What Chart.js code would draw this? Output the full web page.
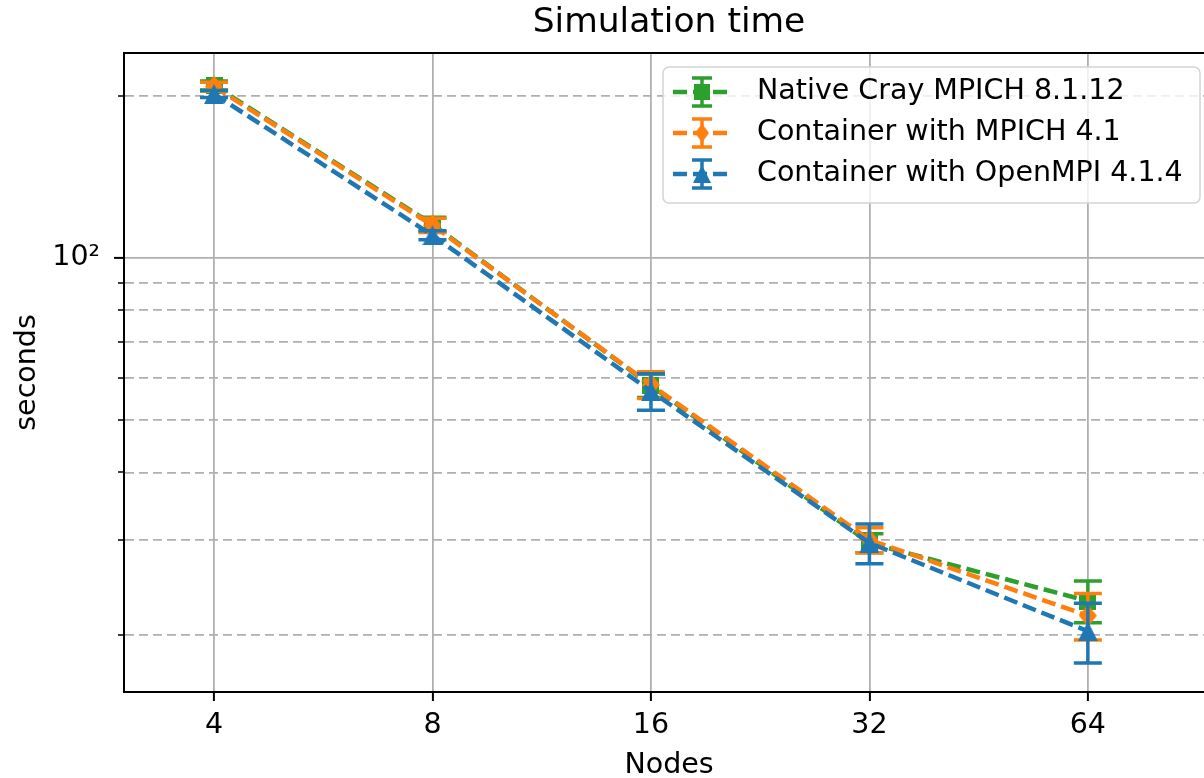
<!DOCTYPE html>
<html lang="en">
<head>
    <meta charset="UTF-8" />
    <title>Simulation time</title>
    <!-- Chart.js (CDN) -->
    <script src="https://cdn.jsdelivr.net/npm/chart.js"></script>
    <style>
        html, body { margin: 0; padding: 0; background: #fff; overflow: hidden; }
        /* the axes run a little past the right edge of the window, as in the original */
        #wrap { width: 1230px; height: 778px; }
    </style>
</head>
<body>
<div id="wrap">
    <canvas id="chartSimulation" width="1230" height="778"></canvas>
</div>

<script>
    // x axis: number of nodes
    const nodes = [4, 8, 16, 32, 64];

    // seconds (mean) and error (+/-) per series
    const nativeCray = [209, 115.5, 58.0, 29.6, 23.1];
    const nativeCrayErr = [4, 3.5, 2.9, 1.2, 2.05];
    const mpichContainer = [208, 115, 58.2, 30.0, 21.7];
    const mpichContainerErr = [4, 3.5, 3.3, 1.6, 2.15];
    const openmpiContainer = [201.5, 110.2, 56.6, 29.6, 20.3];
    const openmpiContainerErr = [3, 2.1, 4.4, 2.5, 2.57];

    // y ticks (log): only 10^2 is labelled, the rest are minor
    const yTicks = [20, 30, 40, 50, 60, 70, 80, 90, 100, 200];

    const seriesNames = [
        'Native Cray MPICH 8.1.12',
        'Container with MPICH 4.1',
        'Container with OpenMPI 4.1.4'
    ];

    const GREEN = '#2ca02c';
    const ORANGE = '#ff7f0e';
    const BLUE = '#1f77b4';
    const FONT = 'DejaVu Sans';
    const FS = 28.5;

    // small canvases used as point styles (square, diamond, triangle)
    function makeMarker(kind, color, w, h) {
        const c = document.createElement('canvas');
        c.width = w;
        c.height = h;
        const g = c.getContext('2d');
        g.fillStyle = color;
        g.beginPath();
        if (kind === 'square') {
            g.rect(0, 0, w, h);
        } else if (kind === 'diamond') {
            g.moveTo(w / 2, 0);
            g.lineTo(w, h / 2);
            g.lineTo(w / 2, h);
            g.lineTo(0, h / 2);
            g.closePath();
        } else {
            g.moveTo(w / 2, 0);
            g.lineTo(w, h);
            g.lineTo(0, h);
            g.closePath();
        }
        g.fill();
        return c;
    }

    const markers = [
        makeMarker('square', GREEN, 17, 17),
        makeMarker('diamond', ORANGE, 18, 22),
        makeMarker('triangle', BLUE, 20, 20)
    ];
    const legendMarkers = [
        makeMarker('square', GREEN, 16, 16),
        makeMarker('diamond', ORANGE, 14, 19),
        makeMarker('triangle', BLUE, 18, 18)
    ];

    function toPoints(values) {
        return nodes.map((n, i) => ({ x: n, y: values[i] }));
    }

    // error bars, drawn right before each dataset so the markers sit on top
    const errorBars = {
        id: 'errorBars',
        beforeDatasetDraw(chart, args) {
            const ds = chart.data.datasets[args.index];
            const yScale = chart.scales.y;
            const ctx = chart.ctx;
            ctx.save();
            ctx.strokeStyle = ds.borderColor;
            ctx.lineWidth = 3.5;
            ctx.setLineDash([]);
            args.meta.data.forEach((pt, i) => {
                const v = ds.data[i].y;
                const e = ds.errors[i];
                const top = yScale.getPixelForValue(v + e);
                const bot = yScale.getPixelForValue(v - e);
                ctx.beginPath();
                ctx.moveTo(pt.x, top);
                ctx.lineTo(pt.x, bot);
                ctx.moveTo(pt.x - 14, top);
                ctx.lineTo(pt.x + 14, top);
                ctx.moveTo(pt.x - 14, bot);
                ctx.lineTo(pt.x + 14, bot);
                ctx.stroke();
            });
            ctx.restore();
        }
    };

    // top/right spines, short minor ticks and the legend box (upper right)
    const frameAndLegend = {
        id: 'frameAndLegend',
        afterDraw(chart) {
            const ctx = chart.ctx;
            const a = chart.chartArea;
            const yScale = chart.scales.y;
            ctx.save();
            ctx.strokeStyle = '#000';
            ctx.lineWidth = 2;
            ctx.beginPath();
            ctx.moveTo(a.left, a.top);
            ctx.lineTo(a.right, a.top);
            ctx.lineTo(a.right, a.bottom);
            ctx.stroke();

            // minor y ticks are shorter than the major one
            ctx.lineWidth = 1.6;
            ctx.beginPath();
            yTicks.filter((v) => v !== 100).forEach((v) => {
                const py = Math.round(yScale.getPixelForValue(v));
                ctx.moveTo(a.left - 6, py);
                ctx.lineTo(a.left, py);
            });
            ctx.stroke();

            // legend frame
            const bx = 663, by = 67, bw = 537, bh = 136, r = 6;
            ctx.beginPath();
            ctx.moveTo(bx + r, by);
            ctx.arcTo(bx + bw, by, bx + bw, by + bh, r);
            ctx.arcTo(bx + bw, by + bh, bx, by + bh, r);
            ctx.arcTo(bx, by + bh, bx, by, r);
            ctx.arcTo(bx, by, bx + bw, by, r);
            ctx.closePath();
            ctx.fillStyle = 'rgba(255,255,255,0.8)';
            ctx.fill();
            ctx.strokeStyle = '#d3d3d3';
            ctx.lineWidth = 1.5;
            ctx.stroke();

            const colors = [GREEN, ORANGE, BLUE];
            const rows = [92, 133, 174];
            const cx = 702;
            rows.forEach((ry, i) => {
                ctx.strokeStyle = colors[i];
                // dashed handle line
                ctx.lineWidth = 4.5;
                ctx.setLineDash([14, 6]);
                ctx.beginPath();
                ctx.moveTo(673, ry);
                ctx.lineTo(730, ry);
                ctx.stroke();
                // error bar glyph
                ctx.setLineDash([]);
                ctx.lineWidth = 3.5;
                ctx.beginPath();
                ctx.moveTo(cx, ry - 14);
                ctx.lineTo(cx, ry + 14);
                ctx.moveTo(cx - 10, ry - 14);
                ctx.lineTo(cx + 10, ry - 14);
                ctx.moveTo(cx - 10, ry + 14);
                ctx.lineTo(cx + 10, ry + 14);
                ctx.stroke();
                const m = legendMarkers[i];
                ctx.drawImage(m, cx - m.width / 2, ry - m.height / 2);
                // label
                ctx.fillStyle = '#000';
                ctx.font = FS + 'px "' + FONT + '"';
                ctx.textBaseline = 'middle';
                ctx.textAlign = 'left';
                ctx.fillText(seriesNames[i], 757, ry);
            });
            ctx.restore();
        }
    };

    function lineDataset(label, values, errs, color, marker, order) {
        return {
            label: label,
            data: toPoints(values),
            errors: errs,
            borderColor: color,
            backgroundColor: color,
            borderWidth: 4.5,
            borderDash: [14, 6],
            tension: 0,
            fill: false,
            pointStyle: marker,
            pointRadius: 10,
            order: order
        };
    }

    new Chart(document.getElementById('chartSimulation'), {
        type: 'line',
        data: {
            datasets: [
                lineDataset(seriesNames[0], nativeCray, nativeCrayErr, GREEN, markers[0], 3),
                lineDataset(seriesNames[1], mpichContainer, mpichContainerErr, ORANGE, markers[1], 2),
                lineDataset(seriesNames[2], openmpiContainer, openmpiContainerErr, BLUE, markers[2], 1)
            ]
        },
        options: {
            responsive: false,
            animation: false,
            events: [],
            layout: { padding: { left: 0, right: 16, top: 0, bottom: 0 } },
            plugins: {
                legend: { display: false },
                tooltip: { enabled: false },
                title: {
                    display: true,
                    text: 'Simulation time',
                    fullSize: false,
                    color: '#000',
                    font: { family: FONT, size: 34.5, weight: 'normal', lineHeight: 1.2 },
                    padding: { top: 2, bottom: 9.6 }
                }
            },
            scales: {
                x: {
                    type: 'logarithmic',
                    min: 3.006,
                    max: 95.5,
                    afterBuildTicks: (s) => { s.ticks = nodes.map((v) => ({ value: v })); },
                    afterFit: (s) => { s.height = 86; },
                    ticks: {
                        callback: (v) => String(v),
                        color: '#000',
                        font: { family: FONT, size: FS },
                        padding: 7,
                        maxRotation: 0,
                        autoSkip: false
                    },
                    grid: { color: '#b0b0b0', lineWidth: 1.8, tickColor: '#000', tickLength: 9, tickWidth: 2 },
                    border: { color: '#000', width: 2 },
                    title: {
                        display: true,
                        text: 'Nodes',
                        color: '#000',
                        font: { family: FONT, size: FS, lineHeight: 1 },
                        padding: { top: 0, bottom: -2 }
                    }
                },
                y: {
                    type: 'logarithmic',
                    min: 15.66,
                    max: 240.1,
                    afterBuildTicks: (s) => { s.ticks = yTicks.map((v) => ({ value: v })); },
                    afterFit: (s) => { s.width = 124; },
                    ticks: {
                        callback: (v) => (v === 100 ? '10²' : ''),
                        color: '#000',
                        font: { family: FONT, size: FS },
                        padding: 14,
                        autoSkip: false
                    },
                    grid: {
                        color: '#b0b0b0',
                        lineWidth: 1.8,
                        tickColor: (ctx) => (ctx.tick && ctx.tick.value === 100 ? '#000' : 'rgba(0,0,0,0)'),
                        tickLength: 10,
                        tickWidth: 2
                    },
                    border: {
                        color: '#000',
                        width: 2,
                        dash: (ctx) => (ctx.tick && ctx.tick.value !== 100 ? [9, 5] : [])
                    },
                    title: {
                        display: true,
                        text: 'seconds',
                        color: '#000',
                        font: { family: FONT, size: FS, lineHeight: 1 },
                        padding: { top: 13, bottom: 0 }
                    }
                }
            }
        },
        plugins: [errorBars, frameAndLegend]
    });
</script>
</body>
</html>
